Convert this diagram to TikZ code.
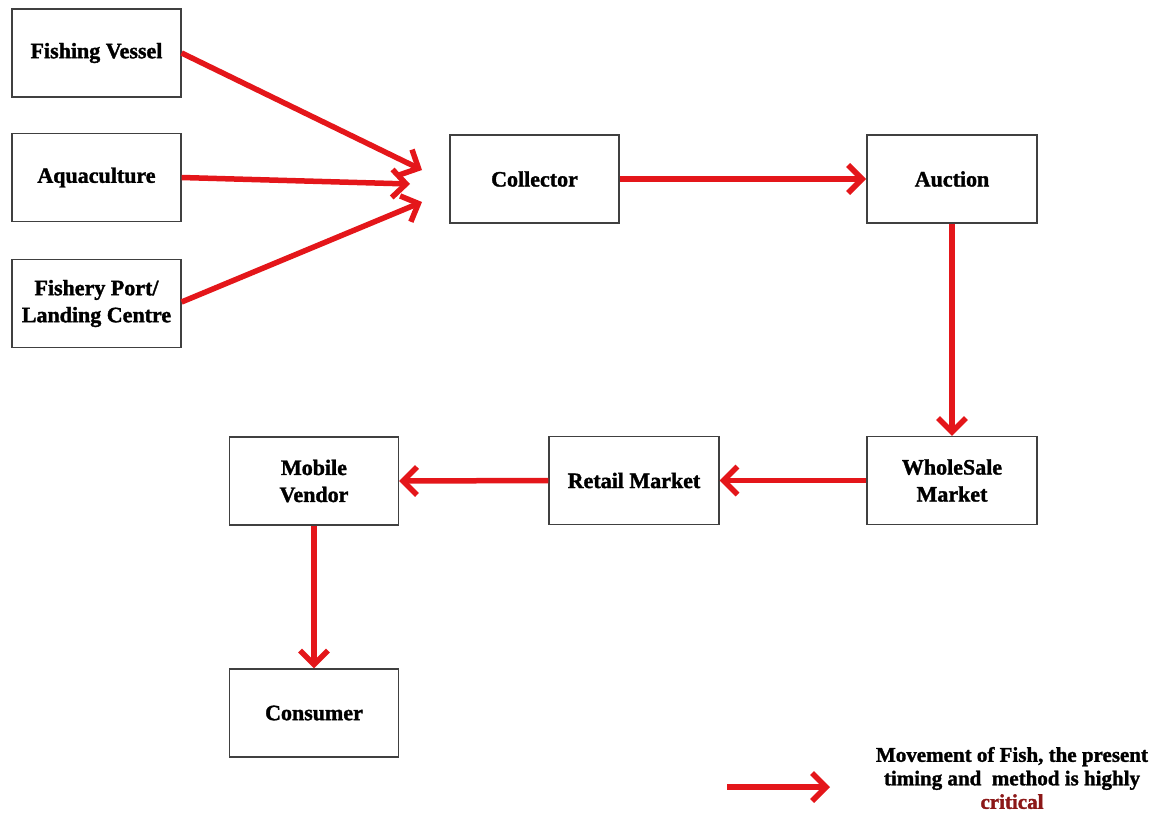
\documentclass[tikz,border=0pt]{standalone}
\usepackage{fontspec}
\setmainfont[BoldFeatures={FakeBold=1.5}]{Liberation Serif}
\usetikzlibrary{arrows.meta}
\definecolor{flowred}{RGB}{228,22,26}
\definecolor{critred}{RGB}{140,24,24}
\begin{document}
\begin{tikzpicture}[x=1pt,y=-1pt,
  box/.style={draw=black!75, line width=1.2pt, minimum width=169pt, minimum height=88pt,
    align=center, inner sep=0pt, font=\fontsize{22}{27}\selectfont\bfseries},
  flow/.style={draw=flowred, line width=5.5pt, -{Straight Barb[length=14pt,width=28pt,line width=5.5pt]}}]
\useasboundingbox (0,0) rectangle (1158,814);
\node[box] (fv) at (96.5,53) {Fishing Vessel};
\node[box] (aq) at (96.5,177.5) {Aquaculture};
\node[box] (fp) at (96.5,303.5) {Fishery Port/\\Landing Centre};
\node[box] (co) at (534.5,179) {Collector};
\node[box, minimum width=170pt] (au) at (952,179) {Auction};
\node[box, minimum width=170pt] (wm) at (952,480.5) {WholeSale\\Market};
\node[box, minimum width=170pt] (rm) at (634,480.5) {Retail Market};
\node[box] (mv) at (314,481) {Mobile\\Vendor};
\node[box] (cn) at (314,713) {Consumer};
\coordinate (t1) at (422,170);
\coordinate (t2) at (410,184);
\coordinate (t3) at (422,202);
\draw[flow] (fv.east |- 0,53) -- (t1);
\draw[flow] (aq.east) -- (t2);
\draw[flow] (fp.east |- 0,302) -- (t3);
\draw[flow] (co.east) -- (866,179);
\draw[flow] (au.south) -- (wm.north);
\draw[flow] (wm.west) -- (rm.east);
\draw[flow] (rm.west) -- (mv.east);
\draw[flow] (mv.south) -- (cn.north);
\coordinate (l1) at (727,787);
\coordinate (l2) at (830,787);
\draw[flow] (l1) -- (l2);
\node[align=center, font=\fontsize{21}{23.5}\selectfont\bfseries] (lg) at (1012,778)
  {Movement of Fish,\ the present\\timing and\ \ method is highly\\\textcolor{critred}{critical}};
\end{tikzpicture}
\end{document}
